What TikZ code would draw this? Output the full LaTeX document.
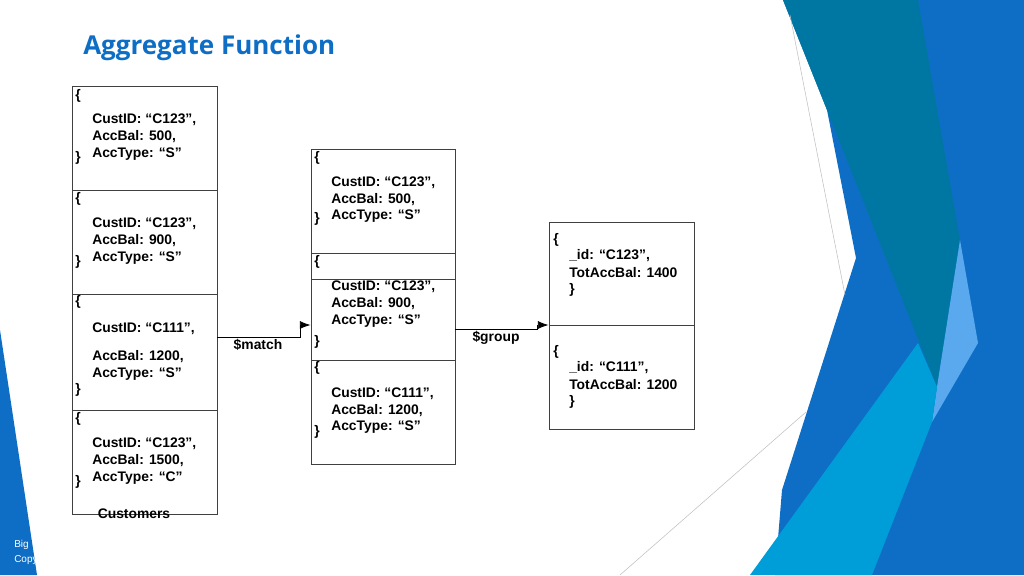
\documentclass[tikz,border=0pt]{standalone}
\usepackage{fontspec}
\setmainfont{Liberation Sans}
\newfontfamily\ttl{Open Sans}
\usetikzlibrary{arrows.meta}
\begin{document}
\begin{tikzpicture}[x=0.75pt,y=-0.75pt,
  t/.style={anchor=west,inner sep=0pt,font=\fontsize{10.4}{12}\selectfont\bfseries},
  box/.style={draw=black!75,line width=0.7pt},
  arr/.style={line width=0.6pt,-{Latex[length=8pt,width=6pt]}}]
\useasboundingbox (0,0) rectangle (1024,575);
% decorations
\definecolor{dblue}{HTML}{0E6EC5}
\definecolor{teal1}{HTML}{0077A3}
\definecolor{cyan1}{HTML}{009ED9}
\definecolor{lblue}{HTML}{5AA9EE}
\fill[dblue] (783,0)--(1024,0)--(1024,575)--(775,575)--(782,490)--(856,258)--(827,110)--cycle;
\fill[teal1] (783,0)--(918,0)--(960,240)--(937,387)--(827,110)--cycle;
\fill[lblue] (960,240)--(978,343)--(932,422)--(937,387)--cycle;
\fill[cyan1] (750,575)--(918,343)--(937,387)--(932,422)--(872,575)--cycle;
\draw[black!25,line width=0.4pt] (790,15)--(845,295);
\draw[black!25,line width=0.4pt] (806,412)--(620,575);
\fill[dblue] (0,330)--(37,575)--(0,575)--cycle;
\node[anchor=west,text=white,inner sep=0pt,font=\fontsize{7.5}{9}\selectfont] (f1) at (14,545) {Big};
\node[anchor=west,text=white,inner sep=0pt,font=\fontsize{7.5}{9}\selectfont] (f2) at (14,560) {Copy};
% title
\node[anchor=west,inner sep=0pt,text=dblue,font=\ttl\fontsize{19.5}{22}\selectfont\bfseries] (title) at (83,48) {Aggregate Function};
% boxes
\node[box,minimum width=108.75pt,minimum height=321pt,inner sep=0pt] (L) at (144.5,300) {};
\draw[box] (72,190)--(217,190) (72,294)--(217,294) (72,410)--(217,410);
\node[box,minimum width=108pt,minimum height=236.25pt,inner sep=0pt] (M) at (383,306.5) {};
\draw[box] (311,253)--(455,253) (311,279)--(455,279) (311,360)--(455,360);
\node[box,minimum width=108.75pt,minimum height=155.25pt,inner sep=0pt] (R) at (621.5,325.5) {};
\draw[box] (549,325)--(694,325);
% left texts
\node[t] (l1a) at (75,96) {\{};
\node[t] (l1b) at (92,120) {CustID: “C123”,};
\node[t] (l1c) at (92,137) {AccBal: 500,};
\node[t] (l1d) at (92,154) {AccType: “S”};
\node[t] (l1e) at (75,158) {\}};
\node[t] (l2a) at (75,199) {\{};
\node[t] (l2b) at (92,224) {CustID: “C123”,};
\node[t] (l2c) at (92,241) {AccBal: 900,};
\node[t] (l2d) at (92,258) {AccType: “S”};
\node[t] (l2e) at (75,262) {\}};
\node[t] (l3a) at (75,302) {\{};
\node[t] (l3b) at (92,329) {CustID: “C111”,};
\node[t] (l3c) at (92,357) {AccBal: 1200,};
\node[t] (l3d) at (92,374) {AccType: “S”};
\node[t] (l3e) at (75,390) {\}};
\node[t] (l4a) at (75,419) {\{};
\node[t] (l4b) at (92,444) {CustID: “C123”,};
\node[t] (l4c) at (92,461) {AccBal: 1500,};
\node[t] (l4d) at (92,478) {AccType: “C”};
\node[t] (l4e) at (75,482) {\}};
\node[t,anchor=center] (cust) at (134,514) {Customers};
% middle texts
\node[t] (m1a) at (314,158) {\{};
\node[t] (m1b) at (331,183) {CustID: “C123”,};
\node[t] (m1c) at (331,200) {AccBal: 500,};
\node[t] (m1d) at (331,216) {AccType: “S”};
\node[t] (m1e) at (314,219) {\}};
\node[t] (m2a) at (314,262) {\{};
\node[t] (m2b) at (331,287) {CustID: “C123”,};
\node[t] (m2c) at (331,304) {AccBal: 900,};
\node[t] (m2d) at (331,321) {AccType: “S”};
\node[t] (m2e) at (314,342) {\}};
\node[t] (m3a) at (314,368) {\{};
\node[t] (m3b) at (331,394) {CustID: “C111”,};
\node[t] (m3c) at (331,411) {AccBal: 1200,};
\node[t] (m3d) at (331,427) {AccType: “S”};
\node[t] (m3e) at (314,432) {\}};
% right texts
\node[t] (r1a) at (553,240) {\{};
\node[t] (r1b) at (569,256) {\_id: “C123”,};
\node[t] (r1c) at (569,273) {TotAccBal: 1400};
\node[t] (r1d) at (569,290) {\}};
\node[t] (r2a) at (553,352) {\{};
\node[t] (r2b) at (569,368) {\_id: “C111”,};
\node[t] (r2c) at (569,385) {TotAccBal: 1200};
\node[t] (r2d) at (569,402) {\}};
% connectors
\coordinate (c1) at (300,337);
\coordinate (c2) at (537,329);
\draw[arr] (L.east|-c1) -- (c1) |- (M.west|-0,325);
\draw[arr] (M.east|-c2) -- (c2) |- (R.west|-0,325);
\node[t,anchor=center] (lm) at (258,345) {\$match};
\node[t,anchor=center] (lg) at (496,338) {\$group};
\end{tikzpicture}
\end{document}
